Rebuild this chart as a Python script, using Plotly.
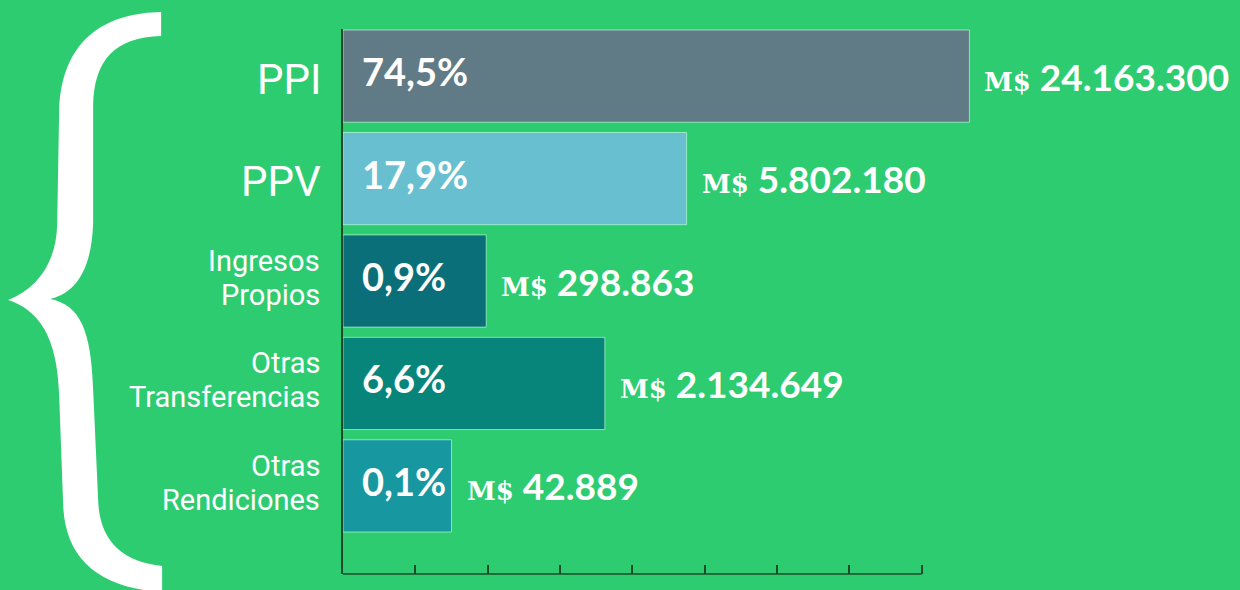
import plotly.graph_objects as go

# ---- data ----
categories = ["PPI", "PPV", "Ingresos Propios", "Otras Transferencias", "Otras Rendiciones"]
label_lines = [["PPI"], ["PPV"], ["Ingresos", "Propios"], ["Otras", "Transferencias"], ["Otras", "Rendiciones"]]
shares_pct = [74.5, 17.9, 0.9, 6.6, 0.1]
amounts_mm = [24163300, 5802180, 298863, 2134649, 42889]
# bar lengths as drawn, in units of the (unlabelled) axis ticks
bar_lengths = [8.66, 4.75, 1.98, 3.62, 1.50]
tick_values = [0, 1, 2, 3, 4, 5, 6, 7, 8]

# ---- style ----
BG = "#2ecc71"
bar_colors = ["#607b85", "#67bfcf", "#0b6f7a", "#07857a", "#1797a0"]
AXIS = "#1d4a2b"
W, H = 1240, 590
X_MAX = 9.0
UNIT = 72.375                       # pixels per axis unit
L, T, B = 343, 29, 574              # plot area in pixels
R = L + X_MAX * UNIT


def fmt_pct(v):
    return f"{v:.1f}".replace(".", ",") + "%"


def fmt_amount(v):
    return f"{v:,}".replace(",", ".")


fig = go.Figure()
fig.add_trace(go.Bar(
    x=bar_lengths, y=categories, orientation="h", width=0.9,
    marker=dict(color=bar_colors, line=dict(color="rgba(190,255,215,0.65)", width=1)),
    cliponaxis=False, hoverinfo="skip", showlegend=False,
))

ann = []
for i, cat in enumerate(categories):
    lines = label_lines[i]
    if len(lines) == 1:
        ann.append(dict(x=0, y=cat, xref="x", yref="y", text=lines[0], showarrow=False,
                        xanchor="right", yanchor="middle", xshift=-20, yshift=-3,
                        font=dict(family="Roboto", size=42, color="white")))
    else:
        for text, ys in zip(lines, [20, -14]):
            ann.append(dict(x=0, y=cat, xref="x", yref="y", text=text, showarrow=False,
                            xanchor="right", yanchor="middle", xshift=-21, yshift=ys,
                            font=dict(family="Roboto", size=29, color="white")))
    ann.append(dict(x=0, y=cat, xref="x", yref="y", text=fmt_pct(shares_pct[i]), showarrow=False,
                    xanchor="left", yanchor="middle", xshift=17, yshift=5,
                    font=dict(family="Lato", size=38, color="white", weight=700)))
    ann.append(dict(x=bar_lengths[i], y=cat, xref="x", yref="y",
                    text='<span style="font-family:DejaVu Serif;font-size:26px;font-weight:bold">M$</span> '
                         + fmt_amount(amounts_mm[i]),
                    showarrow=False, xanchor="left", yanchor="middle", xshift=13, yshift=0,
                    font=dict(family="Lato", size=37, color="white", weight=700)))

# decorative curly brace (pixel outline converted to paper coordinates)
brace_px = [
    ("M", [(161, 12)]),
    ("C", [(110, 13), (62, 35), (59, 110)]),
    ("L", [(57, 225)]),
    ("C", [(56, 262), (38, 288), (8, 300)]),
    ("C", [(38, 310), (57, 335), (59, 395)]),
    ("L", [(63, 505)]),
    ("C", [(65, 560), (100, 588), (162, 592)]),
    ("L", [(162, 566)]),
    ("C", [(122, 562), (99, 540), (98, 500)]),
    ("L", [(93, 390)]),
    ("C", [(91, 330), (80, 305), (50, 299)]),
    ("C", [(80, 292), (92, 262), (93, 222)]),
    ("L", [(93, 105)]),
    ("C", [(94, 60), (115, 37), (161, 36)]),
]


def to_paper(px, py):
    return (px - L) / (R - L), (B - py) / (B - T)


path = ""
for cmd, pts in brace_px:
    path += cmd + " " + ", ".join(f"{to_paper(*p)[0]:.5f} {to_paper(*p)[1]:.5f}" for p in pts) + " "
path += "Z"

fig.add_shape(type="path", path=path, xref="paper", yref="paper",
              fillcolor="white", line=dict(width=0), layer="above")
# x-axis baseline only as far as the last tick
fig.add_shape(type="line", xref="x", yref="paper", x0=tick_values[0], x1=tick_values[-1], y0=0, y1=0,
              line=dict(color=AXIS, width=1.5), layer="above")

fig.update_layout(
    width=W, height=H,
    margin=dict(l=L, r=W - R, t=T, b=H - B, pad=0),
    paper_bgcolor=BG, plot_bgcolor=BG,
    annotations=ann,
    xaxis=dict(range=[0, X_MAX], tickvals=tick_values, showticklabels=False, showgrid=False,
               zeroline=False, showline=False,
               ticks="inside", ticklen=9, tickwidth=1.5, tickcolor=AXIS, fixedrange=True),
    yaxis=dict(type="category", categoryarray=categories, range=[4.86, -0.46],
               showticklabels=False, showgrid=False, zeroline=False, showline=True,
               linecolor=AXIS, linewidth=1.5, ticks="", fixedrange=True),
)

fig.write_html("out.html", config={"displayModeBar": False})

# remove the default page margin so the figure sits at the window's top-left corner
with open("out.html", encoding="utf-8") as f:
    html = f.read()
html = html.replace("<head>", "<head><style>html,body{margin:0;padding:0;background:%s;}</style>" % BG, 1)
with open("out.html", "w", encoding="utf-8") as f:
    f.write(html)
